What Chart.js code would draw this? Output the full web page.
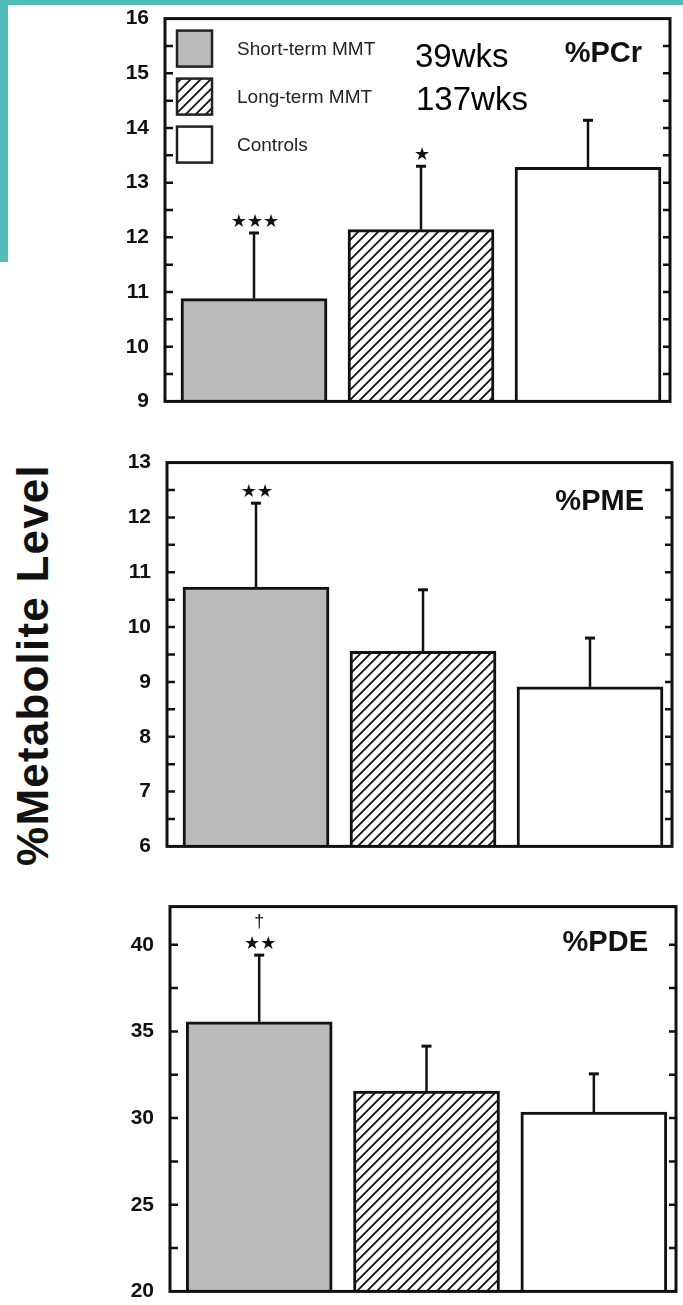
<!DOCTYPE html>
<html>
<head>
<meta charset="utf-8">
<script src="https://cdn.jsdelivr.net/npm/chart.js@4.4.1/dist/chart.umd.min.js"></script>
<style>
    body { margin: 0; background: #fff; }
    #page { position: relative; width: 683px; height: 1305px; overflow: hidden; background: #fff; }
    canvas { position: absolute; left: 0; }
    .teal { position: absolute; background: #53bcb8; z-index: 5; }
    #ytitle {
        position: absolute; left: 33px; top: 665px;
        transform: translate(-50%, -50%) rotate(-90deg);
        font: bold 44px "Liberation Sans", Arial, sans-serif;
        letter-spacing: 1.2px; line-height: 1; white-space: nowrap; color: #111;
    }
</style>
</head>
<body>
<div id="page">
    <div class="teal" style="left:0;top:0;width:683px;height:5px"></div>
    <div class="teal" style="left:0;top:0;width:8px;height:262px"></div>
    <div id="ytitle">%Metabolite Level</div>
    <canvas id="pcr-chart"></canvas>
    <canvas id="pme-chart"></canvas>
    <canvas id="pde-chart"></canvas>
</div>
<script>
// Chart data
const groups = ['Short-term MMT', 'Long-term MMT', 'Controls'];
const durations = ['39wks', '137wks'];

const pcrMean = [10.88, 12.14, 13.28];
const pcrSd = [1.20, 1.16, 0.86];
const pcrTicks = [9, 10, 11, 12, 13, 14, 15, 16];
const pcrSig = ['***', '*', ''];

const pmeMean = [10.73, 9.56, 8.91];
const pmeSd = [1.53, 1.12, 0.89];
const pmeTicks = [6, 7, 8, 9, 10, 11, 12, 13];
const pmeSig = ['**', '', ''];

const pdeMean = [35.55, 31.55, 30.35];
const pdeSd = [3.85, 2.6, 2.2];
const pdeTicks = [20, 25, 30, 35, 40];
const pdeSig = ['**', '', ''];
const pdeDagger = ['\u2020', '', ''];

const FONT = '"Liberation Sans", Arial, sans-serif';

// hatch pattern for the long-term group
function makeHatch() {
    const c = document.createElement('canvas');
    c.width = 10; c.height = 10;
    const g = c.getContext('2d');
    g.fillStyle = '#fff';
    g.fillRect(0, 0, 10, 10);
    g.strokeStyle = '#111';
    g.lineWidth = 1.8;
    g.beginPath();
    g.moveTo(-2, 12); g.lineTo(12, -2);
    g.moveTo(-7, 7); g.lineTo(7, -7);
    g.moveTo(3, 17); g.lineTo(17, 3);
    g.stroke();
    return g.createPattern(c, 'repeat');
}

const grayFill = '#bababa';
const hatchFill = makeHatch();
const fills = [grayFill, hatchFill, '#ffffff'];

function drawStars(ctx, text, x, y) {
    if (!text) return;
    ctx.font = 'bold 18px "DejaVu Sans"';
    ctx.fillStyle = '#111';
    ctx.textAlign = 'center';
    ctx.textBaseline = 'middle';
    ctx.fillText(text.replace(/\*/g, '\u2605'), x, y);
}

// frame, ticks, error bars and labels
function panelPlugin(p) {
    return {
        id: 'panelDecor',
        afterDatasetsDraw(chart) {
            const ctx = chart.ctx;
            const area = chart.chartArea;
            const ys = chart.scales.y;
            const xs = chart.scales.x;
            ctx.save();

            // error bars (upper only)
            ctx.strokeStyle = '#111';
            ctx.lineWidth = 2.5;
            p.mean.forEach((m, i) => {
                const x = xs.getPixelForValue(i);
                const y0 = ys.getPixelForValue(m);
                const y1 = ys.getPixelForValue(m + p.sd[i]);
                ctx.beginPath();
                ctx.moveTo(x, y0);
                ctx.lineTo(x, y1);
                ctx.stroke();
                ctx.lineWidth = 3;
                ctx.beginPath();
                ctx.moveTo(x - 5, y1);
                ctx.lineTo(x + 5, y1);
                ctx.stroke();
                ctx.lineWidth = 2.5;
                drawStars(ctx, p.sig[i], x + 1, y1 - 11);
                if (p.dagger && p.dagger[i]) {
                    ctx.font = '18px ' + FONT;
                    ctx.fillText(p.dagger[i], x, y1 - 33);
                }
            });

            // frame
            ctx.strokeStyle = '#111';
            ctx.lineWidth = 3;
            ctx.strokeRect(area.left, area.top, area.right - area.left, area.bottom - area.top);

            // major + minor ticks on both sides, pointing inward
            const ticks = p.ticks;
            const step = ticks[1] - ticks[0];
            const all = [];
            ticks.forEach(t => { all.push(t); all.push(t + step / 2); });
            ctx.lineWidth = 2.5;
            all.forEach(v => {
                if (v <= p.min || v >= p.max) return;
                const y = ys.getPixelForValue(v);
                ctx.beginPath();
                ctx.moveTo(area.left, y); ctx.lineTo(area.left + 8, y);
                ctx.moveTo(area.right, y); ctx.lineTo(area.right - 7, y);
                ctx.stroke();
            });

            // panel title
            ctx.fillStyle = '#111';
            ctx.font = 'bold 29px ' + FONT;
            ctx.textAlign = 'right';
            ctx.textBaseline = 'middle';
            ctx.fillText(p.title, area.right - 28, area.top + p.titleDy);

            if (p.legend) {
                // legend boxes
                groups.forEach((g, i) => {
                    const bx = area.left + 12, by = area.top + 12 + i * 48;
                    ctx.fillStyle = fills[i];
                    ctx.fillRect(bx, by, 35, 36);
                    ctx.lineWidth = 2.5;
                    ctx.strokeStyle = '#222';
                    ctx.strokeRect(bx, by, 35, 36);
                    ctx.fillStyle = '#222';
                    ctx.font = '19px ' + FONT;
                    ctx.textAlign = 'left';
                    ctx.fillText(g, area.left + 72, by + 19);
                });
                ctx.fillStyle = '#000';
                ctx.font = '33px ' + FONT;
                ctx.textAlign = 'left';
                ctx.fillText(durations[0], area.left + 250, area.top + 39);
                ctx.fillText(durations[1], area.left + 251, area.top + 82);
            }
            ctx.restore();
        }
    };
}

function makePanel(id, p) {
    const pad = 20;
    const frameH = p.bottom - p.top;
    const canvas = document.getElementById(id);
    canvas.width = 683;
    canvas.height = frameH + pad * 2;
    canvas.style.top = (p.top - pad) + 'px';

    const chart = new Chart(canvas, {
        type: 'bar',
        data: {
            datasets: [{
                data: p.mean.map((v, i) => ({ x: i, y: v })),
                backgroundColor: fills,
                borderColor: '#111',
                borderWidth: 3,
                borderSkipped: false,
                barThickness: 146
            }]
        },
        options: {
            responsive: false,
            maintainAspectRatio: false,
            animation: false,
            layout: { padding: { left: 0, right: 683 - p.right, top: pad, bottom: pad } },
            plugins: { legend: { display: false }, tooltip: { enabled: false } },
            scales: {
                x: { type: 'linear', min: -0.533, max: 2.491, offset: false, display: false },
                y: {
                    min: p.min,
                    max: p.max,
                    grid: { display: false, drawTicks: false },
                    border: { display: false },
                    ticks: {
                        color: '#111',
                        padding: 16,
                        font: { family: FONT, size: 21, weight: 'bold' }
                    },
                    afterBuildTicks: s => { s.ticks = p.ticks.map(v => ({ value: v })); },
                    afterFit: s => { s.width = p.left; }
                }
            }
        },
        plugins: [panelPlugin(p)]
    });

    // line the plot area up with the frame of the original figure
    const a = chart.chartArea;
    const topGap = a.top;
    const bottomGap = chart.height - a.bottom;
    const h = Math.round(topGap + frameH + bottomGap);
    canvas.style.top = (p.top - topGap) + 'px';
    chart.resize(683, h);
    return chart;
}

makePanel('pcr-chart', {
    mean: pcrMean, sd: pcrSd, sig: pcrSig, ticks: pcrTicks, min: 9, max: 16,
    title: '%PCr', titleDy: 35, legend: true,
    left: 165, right: 670, top: 19, bottom: 402
});
makePanel('pme-chart', {
    mean: pmeMean, sd: pmeSd, sig: pmeSig, ticks: pmeTicks, min: 6, max: 13,
    title: '%PME', titleDy: 39,
    left: 167, right: 672, top: 463, bottom: 847
});
makePanel('pde-chart', {
    mean: pdeMean, sd: pdeSd, sig: pdeSig, dagger: pdeDagger, ticks: pdeTicks, min: 20, max: 42.2,
    title: '%PDE', titleDy: 36,
    left: 170, right: 676, top: 907, bottom: 1292
});
</script>
</body>
</html>
